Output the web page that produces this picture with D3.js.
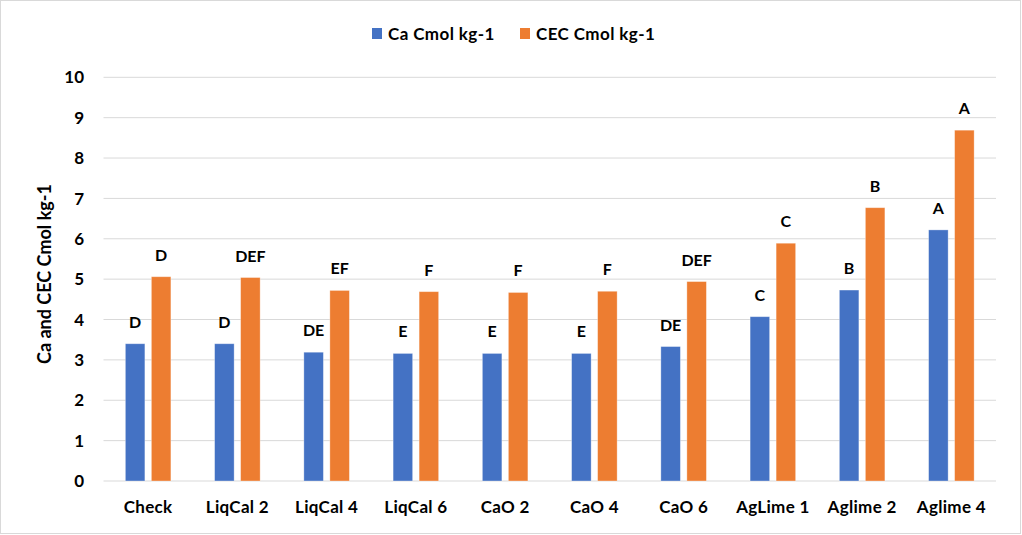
<!DOCTYPE html>
<html lang="en">
<head>
<meta charset="UTF-8">
<title>Ca and CEC</title>
<script src="https://d3js.org/d3.v7.min.js"></script>
<style>
  body { margin: 0; background: #fff; font-family: Lato, "Open Sans", sans-serif; }
  svg { display: block; }
</style>
</head>
<body>
<svg width="1022" height="535"></svg>
<script>
// data
const treatments = ["Check", "LiqCal 2", "LiqCal 4", "LiqCal 6", "CaO 2", "CaO 4", "CaO 6", "AgLime 1", "Aglime 2", "Aglime 4"];
const caValues  = [3.40, 3.40, 3.19, 3.16, 3.16, 3.16, 3.33, 4.07, 4.73, 6.22];
const cecValues = [5.06, 5.04, 4.72, 4.69, 4.67, 4.70, 4.94, 5.89, 6.77, 8.69];
const caLetters  = ["D", "D", "DE", "E", "E", "E", "DE", "C", "B", "A"];
const cecLetters = ["D", "DEF", "EF", "F", "F", "F", "DEF", "C", "B", "A"];
const seriesNames = ["Ca Cmol kg-1", "CEC Cmol kg-1"];
const yTicks = [0, 1, 2, 3, 4, 5, 6, 7, 8, 9, 10];

const colors = ["#4472C4", "#ED7D31"];
const svg = d3.select("svg");

// outer border
svg.append("rect").attr("x", 0.5).attr("y", 0.5).attr("width", 1020).attr("height", 533)
  .attr("fill", "#fff").attr("stroke", "#d9d9d9");

const plotLeft = 103.5, plotRight = 996, plotTop = 77.3, plotBottom = 481;
const y = d3.scaleLinear().domain([0, 10]).range([plotBottom, plotTop]);
const x0 = d3.scaleBand().domain(treatments).range([plotLeft, plotRight])
  .paddingInner(0.49).paddingOuter(0.245);
const x1 = d3.scaleBand().domain([0, 1]).range([0, x0.bandwidth()]).paddingInner(0.25);

// gridlines
svg.append("g").selectAll("line").data(yTicks).join("line")
  .attr("x1", plotLeft).attr("x2", plotRight)
  .attr("y1", d => y(d)).attr("y2", d => y(d))
  .attr("stroke", "#d9d9d9").attr("stroke-width", 1);

// y axis labels
svg.append("g").selectAll("text").data(yTicks).join("text")
  .attr("x", 84).attr("y", d => y(d)).attr("dy", "0.36em")
  .attr("text-anchor", "end").attr("font-size", 17).attr("font-weight", "bold")
  .text(d => d);

// y title
svg.append("text")
  .attr("transform", "translate(51,274) rotate(-90)")
  .attr("text-anchor", "middle").attr("font-size", 18).attr("font-weight", "bold")
  .text("Ca and CEC Cmol kg-1");

const rows = treatments.map((t, i) => ({
  t, vals: [caValues[i], cecValues[i]], letters: [caLetters[i], cecLetters[i]]
}));

const groups = svg.append("g").selectAll("g").data(rows).join("g")
  .attr("transform", d => "translate(" + x0(d.t) + ",0)");

groups.selectAll("rect").data(d => d.vals.map((v, k) => ({ v, k }))).join("rect")
  .attr("x", d => x1(d.k)).attr("width", x1.bandwidth())
  .attr("y", d => y(d.v)).attr("height", d => plotBottom - y(d.v))
  .attr("fill", d => colors[d.k])
  .attr("stroke", "#fff").attr("stroke-opacity", 0.4).attr("stroke-width", 0.8);

groups.selectAll("text").data(d => d.letters.map((l, k) => ({ l, k, v: d.vals[k] }))).join("text")
  .attr("x", d => x1(d.k) + x1.bandwidth() / 2)
  .attr("y", d => y(d.v) - 16)
  .attr("text-anchor", "middle").attr("font-size", 16).attr("font-weight", "bold")
  .text(d => d.l);

// x labels
svg.append("g").selectAll("text").data(treatments).join("text")
  .attr("x", d => x0(d) + x0.bandwidth() / 2).attr("y", 513)
  .attr("text-anchor", "middle").attr("font-size", 17).attr("font-weight", "bold")
  .attr("letter-spacing", 0.3)
  .text(d => d);

// legend
const legendX = [372, 520];
const lg = svg.append("g").selectAll("g").data(seriesNames).join("g")
  .attr("transform", (d, i) => "translate(" + legendX[i] + ",28)");
lg.append("rect").attr("width", 10).attr("height", 11).attr("fill", (d, i) => colors[i]);
lg.append("text").attr("x", 16).attr("y", 5.5).attr("dy", "0.36em")
  .attr("font-size", 17).attr("font-weight", "bold").attr("letter-spacing", 0.4)
  .text(d => d);
</script>
</body>
</html>
